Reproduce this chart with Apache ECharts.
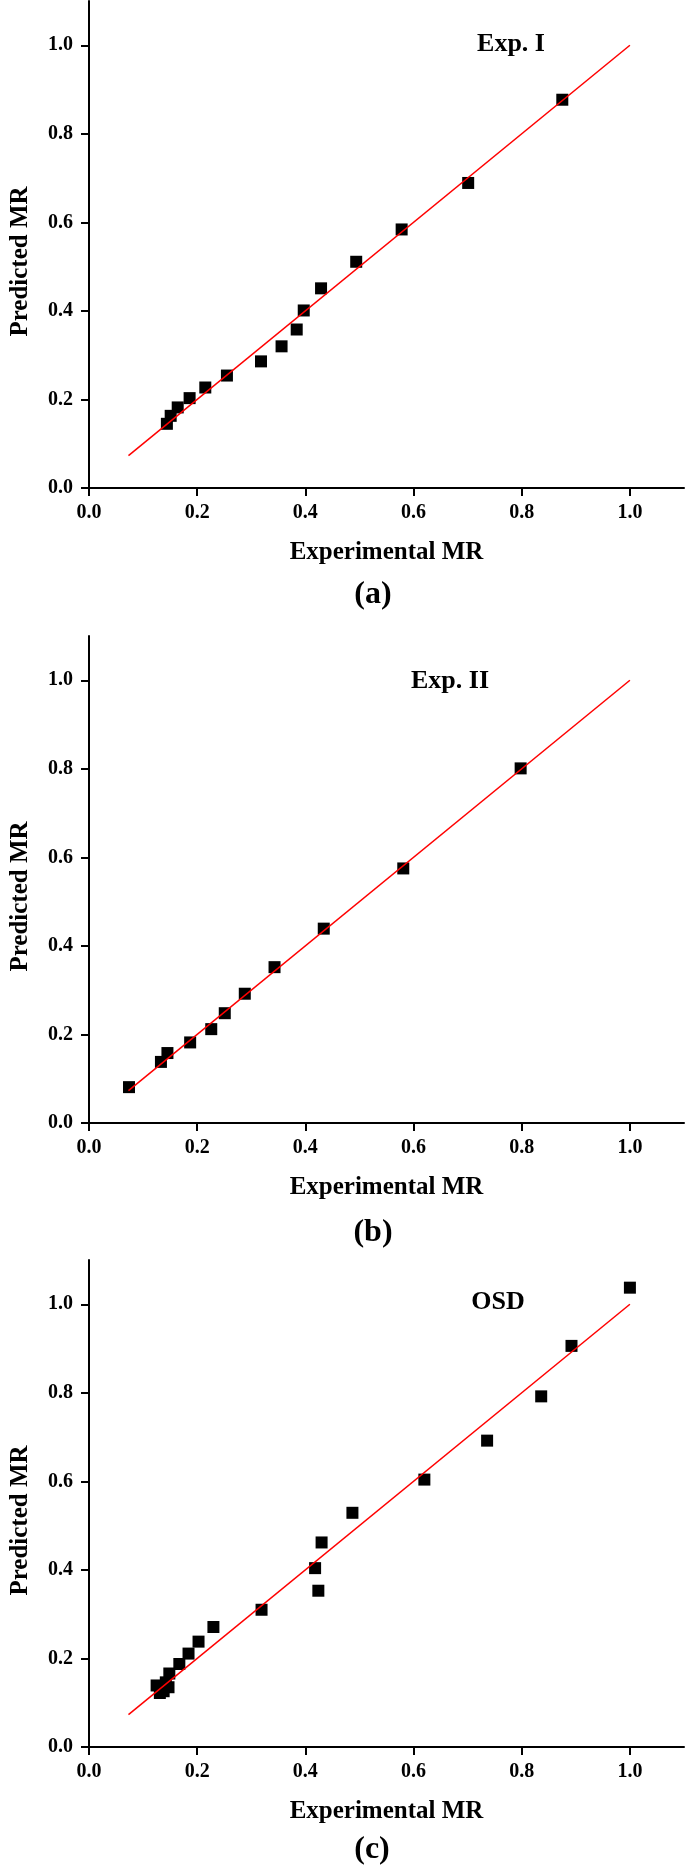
<!DOCTYPE html>
<html>
<head>
<meta charset="utf-8">
<script src="https://cdn.jsdelivr.net/npm/echarts@6/dist/echarts.min.js"></script>
<style>
html,body{margin:0;padding:0;background:#fff;}
#chart{width:685px;height:1870px;}
</style>
</head>
<body>
<div id="chart"></div>
<script>
// ---- data ----
var tickValues = [0, 0.2, 0.4, 0.6, 0.8, 1.0];
var fitLineX = [0.073, 1.0];
var fitLineY = [0.073, 1.0];

var expI_exp  = [0.144, 0.151, 0.164, 0.186, 0.215, 0.255, 0.318, 0.356, 0.384, 0.397, 0.429, 0.494, 0.578, 0.701, 0.875];
var expI_pred = [0.145, 0.163, 0.182, 0.203, 0.227, 0.254, 0.286, 0.320, 0.358, 0.401, 0.451, 0.511, 0.584, 0.689, 0.877];

var expII_exp  = [0.074, 0.133, 0.145, 0.187, 0.226, 0.251, 0.288, 0.343, 0.434, 0.581, 0.798];
var expII_pred = [0.081, 0.138, 0.158, 0.182, 0.212, 0.248, 0.292, 0.352, 0.439, 0.575, 0.801];

var osd_exp  = [0.125, 0.131, 0.138, 0.142, 0.147, 0.134, 0.1485, 0.167, 0.184, 0.2025, 0.230, 0.319, 0.424, 0.418, 0.430, 0.487, 0.620, 0.736, 0.836, 0.892, 1.000];
var osd_pred = [0.139, 0.122, 0.126, 0.146, 0.135, 0.131, 0.166, 0.1875, 0.211, 0.238, 0.271, 0.310, 0.353, 0.404, 0.462, 0.529, 0.604, 0.692, 0.792, 0.906, 1.0375];

var panelTitles = ['Exp. I', 'Exp. II', 'OSD'];
var panelLetters = ['(a)', '(b)', '(c)'];
var xName = 'Experimental MR';
var yName = 'Predicted MR';

// ---- layout ----
var FONT = 'Liberation Serif';
var grids = [
  {left: 79, top: 1, width: 605, height: 487},
  {left: 79, top: 636, width: 605, height: 487},
  {left: 79, top: 1260, width: 605, height: 487}
];
var panels = [[expI_exp, expI_pred], [expII_exp, expII_pred], [osd_exp, osd_pred]];
var titlePos = [[511, 44], [450, 681], [498, 1302]];
var letterPos = [[373, 595], [373, 1233], [372, 1850]];

function zip(a, b) { return a.map(function (v, i) { return [v, b[i]]; }); }

function labelStyle(margin) {
  return {show: true, color: '#000', fontFamily: FONT, fontWeight: 'bold', fontSize: 20, margin: margin,
          customValues: tickValues, formatter: function (v) { return v.toFixed(1); }};
}
function nameStyle(pad) {
  return {color: '#000', fontFamily: FONT, fontWeight: 'bold', fontSize: 25, padding: pad};
}
function axisBase(i) {
  return {
    type: 'value', gridIndex: i, min: 0, max: 1.1, interval: 0.2,
    axisLine: {show: true, onZero: false, lineStyle: {color: '#000', width: 2}},
    axisTick: {show: true, inside: false, length: 8, lineStyle: {color: '#000', width: 2}, customValues: tickValues},
    splitLine: {show: false}
  };
}

var xAxes = [], yAxes = [], series = [], graphics = [];
grids.forEach(function (g, i) {
  xAxes.push(Object.assign(axisBase(i), {
    name: xName, nameLocation: 'middle', nameGap: 52,
    nameTextStyle: nameStyle([0, 0, 0, 0]),
    axisLabel: labelStyle(15)
  }));
  yAxes.push(Object.assign(axisBase(i), {
    name: yName, nameLocation: 'middle', nameGap: 56,
    nameTextStyle: nameStyle([0, 34, 0, 0]),
    axisLabel: labelStyle(16)
  }));
  series.push({
    type: 'line', xAxisIndex: i, yAxisIndex: i, data: zip(fitLineX, fitLineY),
    symbol: 'none', lineStyle: {color: '#ff0000', width: 1.5}, silent: true, z: 3
  });
  series.push({
    type: 'scatter', xAxisIndex: i, yAxisIndex: i, data: zip(panels[i][0], panels[i][1]),
    symbol: 'rect', symbolSize: 12, itemStyle: {color: '#000', opacity: 1}, z: 2
  });
  graphics.push({
    type: 'text', x: titlePos[i][0], y: titlePos[i][1],
    style: {text: panelTitles[i], fill: '#000', fontFamily: FONT, fontWeight: 'bold', fontSize: 26, align: 'center', verticalAlign: 'middle'}
  });
  graphics.push({
    type: 'text', x: letterPos[i][0], y: letterPos[i][1],
    style: {text: panelLetters[i], fill: '#000', fontFamily: FONT, fontWeight: 'bold', fontSize: 32, align: 'center', verticalAlign: 'middle'}
  });
});

var chart = echarts.init(document.getElementById('chart'), null, {renderer: 'canvas'});
chart.setOption({
  backgroundColor: '#fff',
  animation: false,
  grid: grids,
  xAxis: xAxes,
  yAxis: yAxes,
  series: series,
  graphic: graphics
});
</script>
</body>
</html>
